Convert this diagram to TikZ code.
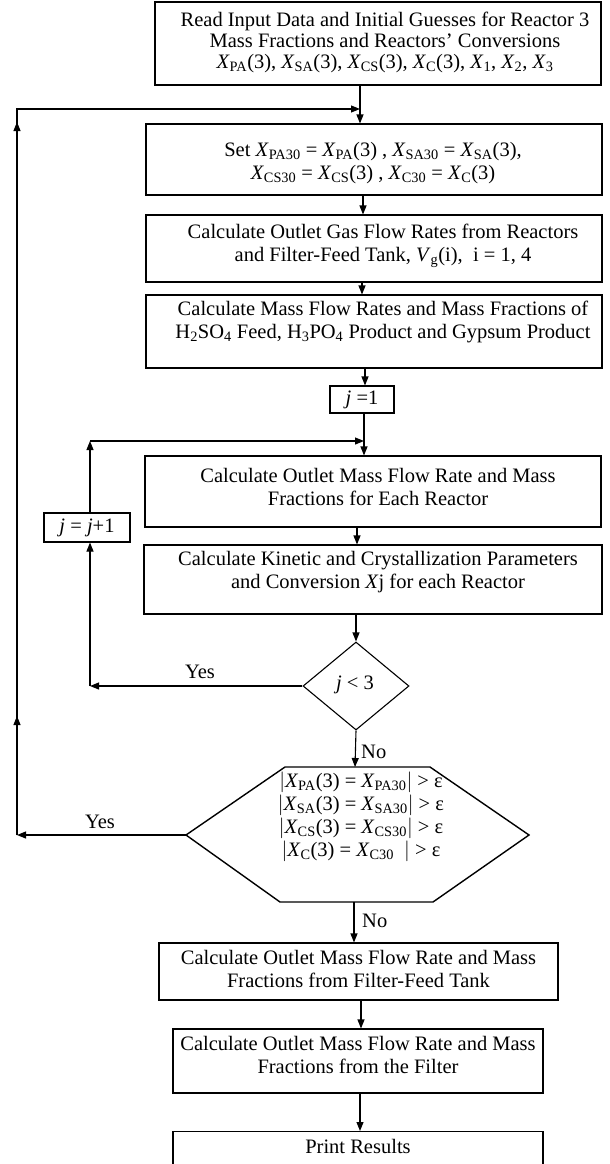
\documentclass[tikz,border=0pt]{standalone}
\usepackage{fontspec}
\setmainfont{Liberation Serif}
\usetikzlibrary{shapes.geometric,arrows.meta}
\newcommand\XX[1]{\textit{X}\textsubscript{#1}}
\begin{document}
\begin{tikzpicture}[x=1pt,y=-1pt,
  box/.style={draw, line width=1.1pt, inner sep=0pt},
  txt/.style={align=center, font=\fontsize{20.5}{23}\selectfont, inner sep=0pt},
  lbl/.style={font=\fontsize{20.5}{23}\selectfont, inner sep=0pt},
  arr/.style={-{Triangle[length=9pt,width=7pt]}, line width=1.1pt},
  ln/.style={line width=1.1pt}]
\useasboundingbox (0,0) rectangle (610,1164);
\clip (0,0) rectangle (610,1164);
% boxes
\node[box, minimum width=446pt, minimum height=83pt] (b1) at (378,43.5) {};
\node[txt, font=\fontsize{20.5}{21}\selectfont] (t1) at (385,42) {Read Input Data and Initial Guesses for Reactor 3\\ Mass Fractions and Reactors’ Conversions\\ \XX{PA}(3), \XX{SA}(3), \XX{CS}(3), \XX{C}(3), \XX{1}, \XX{2}, \XX{3}};
\node[box, minimum width=456pt, minimum height=71pt] (b2) at (374,159.5) {};
\node[txt] (t2) at (373,163) {Set \XX{PA30} = \XX{PA}(3) , \XX{SA30} = \XX{SA}(3),\\ \XX{CS30} = \XX{CS}(3) , \XX{C30} = \XX{C}(3)};
\node[box, minimum width=456pt, minimum height=67pt] (b3) at (374,248.5) {};
\node[txt] (t3) at (383,246) {Calculate Outlet Gas Flow Rates from Reactors\\ and Filter-Feed Tank, \textit{V}\textsubscript{g}(i),\ \ i = 1, 4};
\node[box, minimum width=456pt, minimum height=73pt] (b4) at (374,331.5) {};
\node[txt] (t4) at (383,322) {Calculate Mass Flow Rates and Mass Fractions of\\ H\textsubscript{2}SO\textsubscript{4} Feed, H\textsubscript{3}PO\textsubscript{4} Product and Gypsum Product};
\node[box, minimum width=64pt, minimum height=27pt] (j1) at (362,399.5) {};
\node[txt] (tj1) at (362,399.5) {\textit{j} =1};
\node[box, minimum width=456pt, minimum height=71pt] (b5) at (373,491.5) {};
\node[txt] (t5) at (378,487) {Calculate Outlet Mass Flow Rate and Mass\\ Fractions for Each Reactor};
\node[box, minimum width=458pt, minimum height=69pt] (b6) at (373,579.5) {};
\node[txt] (t6) at (378,572) {Calculate Kinetic and Crystallization Parameters\\ and Conversion \textit{X}j for each Reactor};
\node[box, minimum width=86pt, minimum height=29pt] (jinc) at (87,527.5) {};
\node[txt] (tjinc) at (87,527.5) {\textit{j} = \textit{j}+1};
\node[draw, line width=1.1pt, diamond, minimum width=106pt, minimum height=88pt, inner sep=0pt] (d) at (356,686) {};
\node[txt] (td) at (355,685) {\textit{j} {\textless} 3};
% hexagon
\coordinate (hN1) at (285,767);
\coordinate (hN2) at (430,767);
\coordinate (hE) at (529,835);
\coordinate (hS2) at (433,902);
\coordinate (hS1) at (280,902);
\coordinate (hW) at (186,835);
\coordinate (hN) at (355,767);
\coordinate (hS) at (354,902);
\draw[line width=1.4pt, line join=miter] (hN1) -- (hN2) -- (hE) -- (hS2) -- (hS1) -- (hW) -- cycle;
\node[txt] (th) at (361,817) {$|$\XX{PA}(3) = \XX{PA30}$|$ {\textgreater} ε\\ $|$\XX{SA}(3) = \XX{SA30}$|$ {\textgreater} ε\\ $|$\XX{CS}(3) = \XX{CS30}$|$ {\textgreater} ε\\ $|$\XX{C}(3) = \XX{C30}\ \ $|$ {\textgreater} ε};
\node[box, minimum width=399pt, minimum height=57pt] (b7) at (358.5,971.5) {};
\node[txt] (t7) at (358.5,969) {Calculate Outlet Mass Flow Rate and Mass\\ Fractions from Filter-Feed Tank};
\node[box, minimum width=370pt, minimum height=64pt] (b8) at (358,1061) {};
\node[txt] (t8) at (358,1055) {Calculate Outlet Mass Flow Rate and Mass\\ Fractions from the Filter};
\node[box, minimum width=370pt, minimum height=80pt, anchor=north] (b9) at (358,1131) {};
\node[txt] (t9) at (358,1146) {Print Results};
% labels
\node[lbl] (yes1) at (200,672) {Yes};
\node[lbl] (yes2) at (100,822) {Yes};
\node[lbl, anchor=west] (no1) at (361,752) {No};
\node[lbl, anchor=west] (no2) at (362,921) {No};
% main connectors
\draw[arr] (360,0 |- b1.south) -- (360,0 |- b2.north);
\draw[arr] (363,0 |- b2.south) -- (363,0 |- b3.north);
\draw[arr] (362,0 |- b3.south) -- (362,0 |- b4.north);
\draw[arr] (365,0 |- b4.south) -- (365,0 |- j1.north);
\draw[arr] (364,0 |- j1.south) -- (364,0 |- b5.north);
\draw[arr] (357,0 |- b5.south) -- (357,0 |- b6.north);
\draw[arr] (356,0 |- b6.south) -- (d.north);
\draw[arr] (d.south) -- (hN);
\draw[arr] (hS) -- (354,0 |- b7.north);
\draw[arr] (361,0 |- b7.south) -- (361,0 |- b8.north);
\draw[arr] (360,0 |- b8.south) -- (360,0 |- b9.north);
% inner loop
\coordinate (iL) at (90,686);
\coordinate (iT) at (90,441);
\coordinate (m2) at (364,441);
\draw[arr] (d.west) -- (iL);
\draw[arr] (iL) -- (iL |- jinc.south);
\draw[arr] (iL |- jinc.north) -- (iT);
\draw[arr] (iT) -- (m2);
% outer loop
\coordinate (oL) at (17,835);
\coordinate (oM) at (17,716);
\coordinate (oT) at (17,122);
\coordinate (oC) at (17,109);
\coordinate (m1) at (360,109);
\draw[arr] (hW) -- (oL);
\draw[arr] (oL) -- (oM);
\draw[arr] (oL) -- (oT);
\draw[arr] (oL) -- (oC) -- (m1);
\end{tikzpicture}
\end{document}
